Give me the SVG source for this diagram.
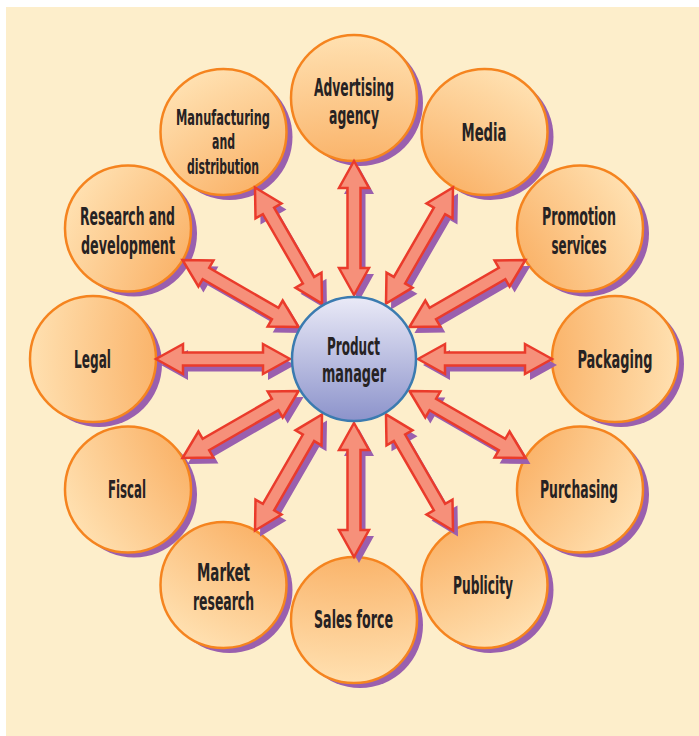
<svg xmlns="http://www.w3.org/2000/svg" xmlns:xlink="http://www.w3.org/1999/xlink" width="699" height="736" viewBox="0 0 699 736">
<style>
.shadow{fill:#9a5fae}
.node{fill:url(#og);stroke:#f5841f;stroke-width:2.5}
.arrow{fill:#f6907a;stroke:#ea3b2b;stroke-width:2.5;stroke-linejoin:miter}
.ashadow{fill:#9a5fae}
.t{font-family:"DejaVu Sans Condensed","DejaVu Sans",sans-serif;font-weight:bold;font-size:25px;fill:#262223;text-anchor:middle}
.s{font-size:22px}
</style>
<defs>
<radialGradient id="og" gradientUnits="userSpaceOnUse" cx="354" cy="359" r="330">
<stop offset="0.6" stop-color="#fab46b"/>
<stop offset="0.98" stop-color="#ffe0b0"/>
</radialGradient>
<linearGradient id="cg" x1="0" y1="0" x2="0" y2="1">
<stop offset="0" stop-color="#eaeaf7"/>
<stop offset="1" stop-color="#8c93cb"/>
</linearGradient>
<path id="arr" d="M64,0 L91,-15 L91,-6.5 L171,-6.5 L171,-15 L198,0 L171,15 L171,6.5 L91,6.5 L91,15 Z"/>
</defs>
<rect x="6" y="7" width="693" height="729" fill="#fdeecb"/>

<g id="shadows">
<circle class="shadow" cx="360" cy="103" r="63"/>
<circle class="shadow" cx="490.5" cy="137" r="63"/>
<circle class="shadow" cx="586" cy="233.5" r="63"/>
<circle class="shadow" cx="621" cy="364" r="63"/>
<circle class="shadow" cx="586" cy="494.5" r="63"/>
<circle class="shadow" cx="490.5" cy="590" r="63"/>
<circle class="shadow" cx="360" cy="625" r="63"/>
<circle class="shadow" cx="229.5" cy="590" r="63"/>
<circle class="shadow" cx="134" cy="494.5" r="63"/>
<circle class="shadow" cx="99" cy="364" r="63"/>
<circle class="shadow" cx="134" cy="233.5" r="63"/>
<circle class="shadow" cx="229.5" cy="137" r="63"/>
</g>

<g id="node-advertising"><circle class="node" cx="354" cy="98" r="63"/></g>
<g id="node-media"><circle class="node" cx="484.5" cy="132" r="63"/></g>
<g id="node-promotion"><circle class="node" cx="580" cy="228.5" r="63"/></g>
<g id="node-packaging"><circle class="node" cx="615" cy="359" r="63"/></g>
<g id="node-purchasing"><circle class="node" cx="580" cy="489.5" r="63"/></g>
<g id="node-publicity"><circle class="node" cx="484.5" cy="585" r="63"/></g>
<g id="node-salesforce"><circle class="node" cx="354" cy="620" r="63"/></g>
<g id="node-marketresearch"><circle class="node" cx="223.5" cy="585" r="63"/></g>
<g id="node-fiscal"><circle class="node" cx="128" cy="489.5" r="63"/></g>
<g id="node-legal"><circle class="node" cx="93" cy="359" r="63"/></g>
<g id="node-research"><circle class="node" cx="128" cy="228.5" r="63"/></g>
<g id="node-manufacturing"><circle class="node" cx="223.5" cy="132" r="63"/></g>

<g id="connectors">
<g id="connector-shadows">
<use xlink:href="#arr" class="ashadow" transform="translate(359,365) rotate(-90)"/>
<use xlink:href="#arr" class="ashadow" transform="translate(359,365) rotate(-60)"/>
<use xlink:href="#arr" class="ashadow" transform="translate(359,365) rotate(-30)"/>
<use xlink:href="#arr" class="ashadow" transform="translate(359,365) rotate(0)"/>
<use xlink:href="#arr" class="ashadow" transform="translate(359,365) rotate(30)"/>
<use xlink:href="#arr" class="ashadow" transform="translate(359,365) rotate(60)"/>
<use xlink:href="#arr" class="ashadow" transform="translate(359,365) rotate(90)"/>
<use xlink:href="#arr" class="ashadow" transform="translate(359,365) rotate(120)"/>
<use xlink:href="#arr" class="ashadow" transform="translate(359,365) rotate(150)"/>
<use xlink:href="#arr" class="ashadow" transform="translate(359,365) rotate(180)"/>
<use xlink:href="#arr" class="ashadow" transform="translate(359,365) rotate(210)"/>
<use xlink:href="#arr" class="ashadow" transform="translate(359,365) rotate(240)"/>
</g>
<use xlink:href="#arr" class="arrow" transform="translate(354,359) rotate(-90)"/>
<use xlink:href="#arr" class="arrow" transform="translate(354,359) rotate(-60)"/>
<use xlink:href="#arr" class="arrow" transform="translate(354,359) rotate(-30)"/>
<use xlink:href="#arr" class="arrow" transform="translate(354,359) rotate(0)"/>
<use xlink:href="#arr" class="arrow" transform="translate(354,359) rotate(30)"/>
<use xlink:href="#arr" class="arrow" transform="translate(354,359) rotate(60)"/>
<use xlink:href="#arr" class="arrow" transform="translate(354,359) rotate(90)"/>
<use xlink:href="#arr" class="arrow" transform="translate(354,359) rotate(120)"/>
<use xlink:href="#arr" class="arrow" transform="translate(354,359) rotate(150)"/>
<use xlink:href="#arr" class="arrow" transform="translate(354,359) rotate(180)"/>
<use xlink:href="#arr" class="arrow" transform="translate(354,359) rotate(210)"/>
<use xlink:href="#arr" class="arrow" transform="translate(354,359) rotate(240)"/>
</g>

<g id="node-productmanager">
<circle cx="354" cy="359" r="62" fill="url(#cg)" stroke="#3b7bb0" stroke-width="2.5"/>
<text class="t" x="353.5" y="355" textLength="53" lengthAdjust="spacingAndGlyphs">Product</text>
<text class="t" x="354" y="382" textLength="64" lengthAdjust="spacingAndGlyphs">manager</text>
</g>

<g id="labels">
<text class="t" x="354" y="96" textLength="80" lengthAdjust="spacingAndGlyphs">Advertising</text>
<text class="t" x="354" y="124" textLength="50" lengthAdjust="spacingAndGlyphs">agency</text>
<text class="t" x="484" y="141" textLength="45" lengthAdjust="spacingAndGlyphs">Media</text>
<text class="t" x="579" y="225" textLength="74" lengthAdjust="spacingAndGlyphs">Promotion</text>
<text class="t" x="579" y="254" textLength="55" lengthAdjust="spacingAndGlyphs">services</text>
<text class="t" x="615" y="368" textLength="75" lengthAdjust="spacingAndGlyphs">Packaging</text>
<text class="t" x="579" y="498" textLength="78" lengthAdjust="spacingAndGlyphs">Purchasing</text>
<text class="t" x="483" y="594" textLength="60" lengthAdjust="spacingAndGlyphs">Publicity</text>
<text class="t" x="353.5" y="628" textLength="79" lengthAdjust="spacingAndGlyphs">Sales force</text>
<text class="t" x="223.5" y="581" textLength="53" lengthAdjust="spacingAndGlyphs">Market</text>
<text class="t" x="223.5" y="610" textLength="61" lengthAdjust="spacingAndGlyphs">research</text>
<text class="t" x="127" y="498" textLength="38" lengthAdjust="spacingAndGlyphs">Fiscal</text>
<text class="t" x="92.5" y="368" textLength="37" lengthAdjust="spacingAndGlyphs">Legal</text>
<text class="t" x="127.5" y="225" textLength="95" lengthAdjust="spacingAndGlyphs">Research and</text>
<text class="t" x="128" y="254" textLength="94" lengthAdjust="spacingAndGlyphs">development</text>
<text class="t s" x="223" y="125" textLength="94" lengthAdjust="spacingAndGlyphs">Manufacturing</text>
<text class="t s" x="223.5" y="149" textLength="23" lengthAdjust="spacingAndGlyphs">and</text>
<text class="t s" x="223" y="174" textLength="72" lengthAdjust="spacingAndGlyphs">distribution</text>
</g>
</svg>
